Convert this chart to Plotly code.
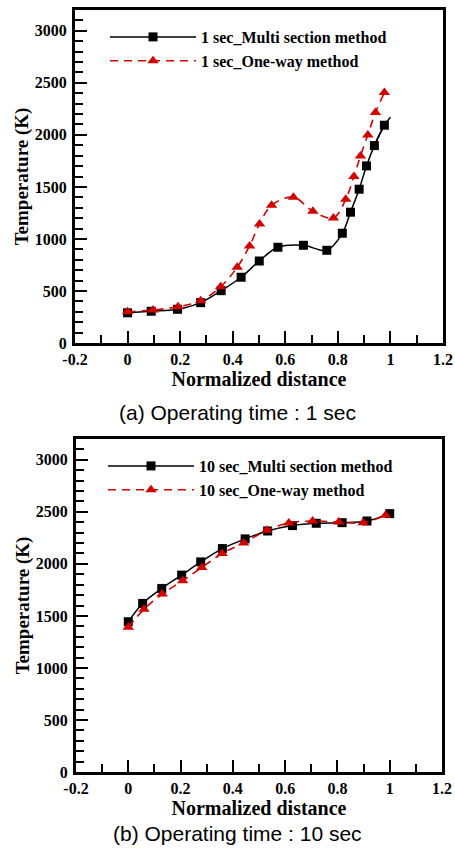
import plotly.graph_objects as go

# ---- Data: (a) 1 sec ----
a_multi_x = [0.0, 0.09, 0.19, 0.278, 0.356, 0.432, 0.501, 0.572, 0.669, 0.758, 0.817, 0.848, 0.881, 0.909, 0.939, 0.977]
a_multi_y = [290, 305, 324, 388, 503, 632, 788, 920, 939, 891, 1055, 1257, 1478, 1702, 1897, 2093]
a_multi_tail_x = [0.939, 0.977, 1.0]          # curve continues past last marker
a_multi_tail_y = [1897, 2093, 2170]
a_oneway_x = [0.0, 0.097, 0.192, 0.278, 0.354, 0.417, 0.464, 0.502, 0.548, 0.631, 0.705, 0.783, 0.830, 0.861, 0.886, 0.914, 0.943, 0.977]
a_oneway_y = [301, 317, 349, 407, 541, 728, 933, 1144, 1324, 1401, 1266, 1202, 1381, 1599, 1798, 2000, 2214, 2407]

# ---- Data: (b) 10 sec ----
b_multi_x = [0.0, 0.055, 0.128, 0.204, 0.277, 0.360, 0.447, 0.533, 0.628, 0.719, 0.818, 0.913, 1.0]
b_multi_y = [1444, 1620, 1764, 1892, 2019, 2147, 2240, 2316, 2368, 2390, 2396, 2412, 2483]
b_oneway_x = [0.0, 0.060, 0.130, 0.208, 0.281, 0.359, 0.441, 0.530, 0.614, 0.705, 0.805, 0.898, 0.984]
b_oneway_y = [1391, 1563, 1710, 1838, 1965, 2100, 2201, 2323, 2393, 2412, 2402, 2396, 2467]

names_a = ["1 sec_Multi section method", "1 sec_One-way method"]
names_b = ["10 sec_Multi section method", "10 sec_One-way method"]
x_ticks = [-0.2, 0, 0.2, 0.4, 0.6, 0.8, 1, 1.2]
x_tick_text = ["-0.2", "0", "0.2", "0.4", "0.6", "0.8", "1", "1.2"]
y_ticks = [0, 500, 1000, 1500, 2000, 2500, 3000]

RED = "rgb(212,0,0)"
SERIF = "Liberation Serif"

fig = go.Figure()

fig.add_trace(go.Scatter(x=a_multi_tail_x, y=a_multi_tail_y, mode="lines", showlegend=False,
                         line=dict(color="black", width=1.5, shape="spline"), hoverinfo="skip",
                         xaxis="x", yaxis="y"))
fig.add_trace(go.Scatter(x=a_multi_x, y=a_multi_y, name=names_a[0], mode="lines+markers",
                         line=dict(color="black", width=1.5, shape="spline"),
                         marker=dict(symbol="square", size=9, color="black", line=dict(width=0)),
                         xaxis="x", yaxis="y", legend="legend"))
fig.add_trace(go.Scatter(x=a_oneway_x, y=a_oneway_y, name=names_a[1], mode="lines+markers",
                         line=dict(color=RED, width=1.6, dash="8px,6px", shape="spline"),
                         marker=dict(symbol="triangle-up", size=10, color=RED, line=dict(width=0)),
                         xaxis="x", yaxis="y", legend="legend"))
fig.add_trace(go.Scatter(x=b_multi_x, y=b_multi_y, name=names_b[0], mode="lines+markers",
                         line=dict(color="black", width=1.5, shape="spline"),
                         marker=dict(symbol="square", size=9, color="black", line=dict(width=0)),
                         xaxis="x2", yaxis="y2", legend="legend2"))
fig.add_trace(go.Scatter(x=b_oneway_x, y=b_oneway_y, name=names_b[1], mode="lines+markers",
                         line=dict(color=RED, width=1.6, dash="8px,6px", shape="spline"),
                         marker=dict(symbol="triangle-up", size=10, color=RED, line=dict(width=0)),
                         xaxis="x2", yaxis="y2", legend="legend2"))

W, H = 455, 853

def xax(domain, anchor):
    return dict(domain=domain, anchor=anchor, range=[-0.2, 1.2], tickvals=x_ticks, ticktext=x_tick_text,
                automargin=False,
                ticks="inside", ticklen=12, tickwidth=2, tickcolor="black",
                minor=dict(ticks="inside", dtick=0.1, ticklen=8, tickwidth=1.5, tickcolor="black"),
                showline=True, linewidth=3, linecolor="black", mirror=True, showgrid=False, zeroline=False,
                tickfont=dict(family=SERIF, size=16, color="black", weight=700),
                title=dict(text="Normalized distance", font=dict(family=SERIF, size=20, color="black", weight=700),
                           standoff=2))

def yax(domain, anchor):
    return dict(domain=domain, anchor=anchor, range=[0, 3200], tickvals=y_ticks,
                automargin=False,
                ticks="inside", ticklen=12, tickwidth=2, tickcolor="black",
                minor=dict(ticks="inside", dtick=100, ticklen=8, tickwidth=1.5, tickcolor="black"),
                showline=True, linewidth=3, linecolor="black", mirror=True, showgrid=False, zeroline=False,
                ticklabelstandoff=2,
                tickfont=dict(family=SERIF, size=16, color="black", weight=700),
                title=dict(text="Temperature (K)", font=dict(family=SERIF, size=19, color="black", weight=700),
                           standoff=2))

legend_common = dict(bgcolor="rgba(0,0,0,0)", borderwidth=0, itemwidth=86, tracegroupgap=0,
                     font=dict(family=SERIF, size=16, color="black", weight=700),
                     xanchor="left", yanchor="top", itemclick=False)

fig.update_layout(
    width=W, height=H, margin=dict(l=0, r=0, t=0, b=0), autosize=False,
    paper_bgcolor="white", plot_bgcolor="white", showlegend=True,
    xaxis=xax([75 / W, 443 / W], "y"),
    yaxis=yax([1 - 343 / H, 1 - 10 / H], "x"),
    xaxis2=xax([76 / W, 442 / W], "y2"),
    yaxis2=yax([1 - 772 / H, 1 - 439 / H], "x2"),
    legend=dict(x=105 / W, y=1 - 20 / H, **legend_common),
    legend2=dict(x=103 / W, y=1 - 449 / H, **legend_common),
    annotations=[
        dict(text="(a) Operating time : 1 sec", x=237 / W, y=1 - 412 / H, xref="paper", yref="paper",
             showarrow=False, xanchor="center", yanchor="middle",
             font=dict(family="Liberation Sans", size=21, color="black")),
        dict(text="(b) Operating time : 10 sec", x=237 / W, y=1 - 833 / H, xref="paper", yref="paper",
             showarrow=False, xanchor="center", yanchor="middle",
             font=dict(family="Liberation Sans", size=21, color="black")),
    ],
)

fig.write_html("out.html")
